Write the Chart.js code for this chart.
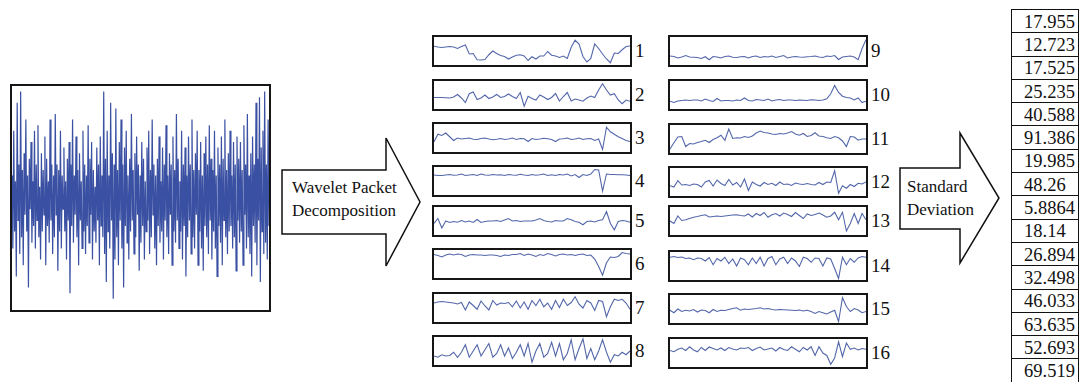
<!DOCTYPE html>
<html><head><meta charset="utf-8">
<script src="https://cdn.jsdelivr.net/npm/chart.js@4/dist/chart.umd.min.js"></script>
<style>
html,body{margin:0;padding:0;background:#fff;width:1079px;height:382px;overflow:hidden;font-family:"Liberation Serif","DejaVu Serif",serif;color:#111;}
.box{position:absolute;border:2px solid #161616;box-sizing:border-box;background:#fff;}
.box canvas{display:block;}
.lbl{position:absolute;font-size:19px;line-height:19px;}
.atext{position:absolute;font-size:17px;line-height:23px;white-space:nowrap;}
#tbl{position:absolute;left:1011px;top:9px;border-collapse:collapse;}
#tbl td{border:1.5px solid #111;height:23.3px;width:68px;padding:1px 0 0 12px;font-size:18.5px;line-height:18px;box-sizing:border-box;}
svg{position:absolute;left:0;top:0;}
</style></head>
<body>
<svg width="1079" height="382" id="arrows">
  <polygon points="282,170 386,170 386,138 420,202 386,266 386,234 282,234" fill="#fff" stroke="#111" stroke-width="1.5"/>
  <polygon points="900,168 960,168 960,133 999,198 960,263 960,229 900,229" fill="#fff" stroke="#111" stroke-width="1.5"/>
</svg>
<div class="atext" style="left:292px;top:176px;">Wavelet Packet<br>Decomposition</div>
<div class="atext" style="left:907px;top:175px;">Standard<br>Deviation</div>
<div id="root"></div>
<table id="tbl"></table>
<script>
// ---------- data ----------
const rawSignal = [
0.2,-0.45,0.6,-0.3,0.15,-0.7,0.85,-0.2,0.3,-0.5,0.95,-0.35,
0.25,-0.6,0.4,-0.15,0.7,-0.3,0.2,-0.8,0.35,-0.1,0.5,-0.4,
0.15,-0.25,0.6,-0.45,0.3,-0.2,0.65,-0.35,0.1,-0.55,0.4,-0.3,
0.25,-0.15,0.55,-0.6,0.35,-0.25,0.15,-0.4,0.7,-0.2,0.3,-0.5,
0.2,-0.35,0.75,-0.15,0.3,-0.65,0.25,-0.3,0.6,-0.45,0.2,-0.1,
0.45,-0.3,0.15,-0.55,0.35,-0.2,0.5,-0.85,0.3,-0.25,0.7,-0.4,
0.2,-0.15,0.55,-0.35,0.25,-0.6,0.4,-0.2,0.15,-0.45,0.6,-0.3,
0.3,-0.5,0.2,-0.25,0.65,-0.4,0.35,-0.15,0.5,-0.55,0.25,-0.3,
0.1,-0.4,0.45,-0.2,0.3,-0.6,0.55,-0.25,0.2,-0.35,0.95,-0.5,
0.35,-0.75,0.6,-0.3,0.2,-0.45,0.85,-0.2,0.4,-0.9,0.3,-0.55,
0.8,-0.35,0.25,-0.6,0.5,-0.2,0.7,-0.45,0.3,-0.8,0.45,-0.25,
0.6,-0.4,0.2,-0.55,0.35,-0.3,0.75,-0.2,0.25,-0.5,0.4,-0.35,
0.55,-0.15,0.3,-0.65,0.2,-0.4,0.5,-0.25,0.35,-0.55,0.15,-0.3,
0.45,-0.2,0.6,-0.5,0.25,-0.35,0.7,-0.15,0.3,-0.45,0.2,-0.6,
0.35,-0.25,0.55,-0.4,0.15,-0.3,0.45,-0.55,0.3,-0.2,0.65,-0.35,
0.2,-0.5,0.4,-0.15,0.3,-0.6,0.55,-0.3,0.25,-0.4,0.75,-0.2,
0.35,-0.45,0.15,-0.3,0.6,-0.55,0.3,-0.25,0.45,-0.7,0.2,-0.35,
0.55,-0.2,0.3,-0.5,0.7,-0.35,0.25,-0.45,0.4,-0.15,0.6,-0.6,
0.25,-0.3,0.5,-0.45,0.2,-0.65,0.4,-0.25,0.55,-0.35,0.3,-0.5,
0.65,-0.2,0.35,-0.55,0.25,-0.3,0.6,-0.45,0.2,-0.7,0.45,-0.25,
0.3,-0.4,0.55,-0.6,0.35,-0.2,0.7,-0.35,0.25,-0.5,0.4,-0.3,
0.6,-0.25,0.2,-0.45,0.5,-0.35,0.3,-0.65,0.55,-0.2,0.35,-0.4,
0.5,-0.3,0.25,-0.6,0.65,-0.15,0.3,-0.45,0.75,-0.35,0.2,-0.5,
0.4,-0.7,0.55,-0.25,0.3,-0.4,0.85,-0.6,0.35,-0.2,0.9,-0.75,
0.45,-0.3,0.6,-0.5,0.95,-0.4,0.3,-0.55,0.7,-0.25];

const sub1 = [0.69,0.66,0.64,0.66,0.68,0.66,0.60,0.68,0.74,0.38,0.40,0.15,0.14,0.16,0.35,0.50,0.40,0.32,0.28,0.18,0.26,0.33,0.35,0.30,0.12,0.27,0.18,0.30,0.30,0.48,0.33,0.30,0.24,0.30,0.20,0.65,0.93,0.78,0.28,0.06,0.20,0.78,0.60,0.38,0.18,0.03,0.42,0.40,0.55,0.68,0.70];
const sub2 = [0.40,0.40,0.40,0.39,0.38,0.42,0.52,0.38,0.20,0.55,0.62,0.32,0.38,0.50,0.36,0.42,0.52,0.40,0.44,0.54,0.44,0.36,0.60,0.05,0.45,0.36,0.30,0.50,0.42,0.32,0.40,0.56,0.26,0.44,0.60,0.26,0.34,0.30,0.25,0.38,0.46,0.40,0.70,0.95,0.70,0.50,0.55,0.30,0.15,0.30,0.25];
const sub3 = [0.35,0.65,0.60,0.70,0.55,0.40,0.50,0.46,0.48,0.50,0.45,0.44,0.48,0.50,0.46,0.43,0.45,0.48,0.44,0.46,0.50,0.44,0.48,0.47,0.36,0.48,0.44,0.46,0.49,0.47,0.44,0.36,0.46,0.47,0.50,0.44,0.46,0.50,0.44,0.47,0.48,0.40,0.46,0.04,0.93,0.75,0.65,0.55,0.48,0.40,0.36];
const sub4 = [0.74,0.72,0.72,0.74,0.76,0.73,0.74,0.78,0.72,0.74,0.76,0.72,0.78,0.74,0.73,0.76,0.74,0.75,0.72,0.76,0.74,0.73,0.77,0.74,0.72,0.76,0.73,0.75,0.78,0.72,0.75,0.72,0.76,0.74,0.78,0.70,0.76,0.64,0.76,0.72,0.78,0.96,0.94,0.10,0.78,0.76,0.76,0.75,0.75,0.74,0.72];
const sub5 = [0.40,0.60,0.22,0.50,0.44,0.48,0.45,0.52,0.46,0.50,0.44,0.56,0.44,0.48,0.50,0.50,0.52,0.48,0.54,0.60,0.50,0.52,0.48,0.50,0.50,0.50,0.54,0.60,0.52,0.48,0.46,0.52,0.50,0.50,0.60,0.55,0.48,0.45,0.35,0.48,0.50,0.46,0.52,0.55,0.88,0.40,0.15,0.48,0.52,0.50,0.45];
const sub6 = [0.88,0.84,0.78,0.86,0.90,0.86,0.90,0.88,0.80,0.86,0.88,0.86,0.86,0.84,0.86,0.86,0.84,0.80,0.86,0.84,0.88,0.88,0.92,0.84,0.90,0.86,0.80,0.88,0.84,0.92,0.88,0.82,0.88,0.90,0.86,0.88,0.84,0.88,0.90,0.84,0.86,0.70,0.40,0.05,0.55,0.78,0.76,0.80,0.96,0.92,0.90];
const sub7 = [0.70,0.74,0.76,0.74,0.72,0.70,0.66,0.72,0.42,0.74,0.60,0.45,0.78,0.58,0.42,0.80,0.62,0.70,0.68,0.72,0.55,0.78,0.50,0.74,0.45,0.80,0.60,0.85,0.55,0.70,0.45,0.80,0.52,0.85,0.60,0.72,0.95,0.65,0.50,0.80,0.70,0.40,0.80,0.76,0.15,0.55,0.85,0.80,0.85,0.70,0.45];
const sub8 = [0.30,0.25,0.35,0.30,0.32,0.45,0.25,0.45,0.75,0.25,0.50,0.75,0.30,0.55,0.80,0.25,0.40,0.75,0.30,0.62,0.20,0.45,0.75,0.30,0.80,0.05,0.50,0.80,0.25,0.40,0.85,0.30,0.80,0.15,0.40,0.95,0.15,0.60,0.98,0.20,0.60,0.15,0.50,0.95,0.45,0.05,0.35,0.30,0.45,0.35,0.50];
const sub9 = [0.30,0.28,0.22,0.26,0.32,0.26,0.25,0.24,0.20,0.27,0.15,0.28,0.26,0.22,0.28,0.30,0.25,0.24,0.27,0.28,0.22,0.28,0.30,0.24,0.28,0.26,0.30,0.24,0.28,0.32,0.22,0.26,0.28,0.26,0.25,0.27,0.28,0.30,0.26,0.24,0.30,0.28,0.32,0.16,0.26,0.28,0.30,0.26,0.15,0.60,0.95];
const sub10 = [0.25,0.20,0.26,0.28,0.30,0.28,0.30,0.30,0.26,0.34,0.28,0.24,0.36,0.26,0.28,0.28,0.26,0.30,0.28,0.38,0.28,0.26,0.32,0.30,0.28,0.34,0.26,0.30,0.32,0.28,0.30,0.30,0.28,0.30,0.29,0.28,0.31,0.30,0.28,0.30,0.35,0.55,0.88,0.60,0.45,0.40,0.38,0.30,0.38,0.20,0.25];
const sub11 = [0.10,0.35,0.58,0.60,0.20,0.32,0.30,0.36,0.40,0.45,0.36,0.48,0.55,0.65,0.45,0.90,0.52,0.55,0.54,0.60,0.56,0.62,0.74,0.82,0.76,0.74,0.70,0.68,0.72,0.70,0.74,0.80,0.70,0.65,0.72,0.60,0.64,0.75,0.62,0.60,0.55,0.52,0.60,0.55,0.42,0.20,0.60,0.58,0.45,0.50,0.50];
const sub12 = [0.35,0.30,0.55,0.38,0.40,0.36,0.42,0.40,0.30,0.50,0.56,0.34,0.58,0.44,0.36,0.60,0.38,0.48,0.30,0.62,0.16,0.50,0.40,0.34,0.48,0.40,0.45,0.36,0.50,0.40,0.42,0.36,0.46,0.42,0.40,0.44,0.40,0.38,0.48,0.40,0.50,0.48,0.95,0.05,0.35,0.25,0.40,0.32,0.45,0.42,0.50];
const sub13 = [0.50,0.40,0.70,0.52,0.55,0.60,0.65,0.68,0.72,0.75,0.66,0.68,0.70,0.68,0.70,0.72,0.74,0.75,0.72,0.70,0.78,0.66,0.80,0.72,0.84,0.65,0.75,0.80,0.70,0.82,0.76,0.68,0.84,0.72,0.60,0.78,0.72,0.76,0.82,0.74,0.65,0.70,0.85,0.55,0.85,0.10,0.40,0.80,0.40,0.80,0.55];
const sub14 = [0.85,0.88,0.84,0.86,0.80,0.82,0.75,0.82,0.80,0.70,0.84,0.55,0.80,0.70,0.85,0.60,0.78,0.50,0.82,0.75,0.55,0.82,0.60,0.85,0.50,0.80,0.88,0.55,0.78,0.85,0.60,0.82,0.70,0.48,0.85,0.80,0.65,0.82,0.80,0.50,0.82,0.78,0.40,0.00,0.85,0.55,0.80,0.65,0.82,0.88,0.85];
const sub15 = [0.45,0.35,0.50,0.40,0.45,0.42,0.48,0.38,0.46,0.44,0.35,0.48,0.40,0.45,0.44,0.48,0.52,0.55,0.45,0.50,0.48,0.50,0.52,0.55,0.50,0.52,0.48,0.46,0.48,0.47,0.46,0.45,0.44,0.46,0.42,0.45,0.40,0.32,0.40,0.35,0.30,0.38,0.45,0.00,0.95,0.60,0.40,0.52,0.46,0.35,0.40];
const sub16 = [0.60,0.55,0.65,0.70,0.60,0.75,0.62,0.55,0.72,0.60,0.74,0.68,0.62,0.70,0.60,0.72,0.66,0.62,0.70,0.68,0.72,0.60,0.68,0.74,0.62,0.66,0.70,0.58,0.72,0.64,0.60,0.75,0.65,0.55,0.72,0.62,0.75,0.40,0.75,0.50,0.40,0.05,0.30,0.95,0.35,0.90,0.65,0.70,0.62,0.68,0.65];
const subSeries = [sub1,sub2,sub3,sub4,sub5,sub6,sub7,sub8,sub9,sub10,sub11,sub12,sub13,sub14,sub15,sub16];
const subLabels = ['1','2','3','4','5','6','7','8','9','10','11','12','13','14','15','16'];
const stdValues = ['17.955','12.723','17.525','25.235','40.588','91.386','19.985','48.26','5.8864','18.14','26.894','32.498','46.033','63.635','52.693','69.519'];

// ---------- drawing ----------
const root = document.getElementById('root');
function makeBox(left, top, w, h){
  const d = document.createElement('div');
  d.className = 'box';
  d.style.left = left+'px'; d.style.top = top+'px';
  d.style.width = w+'px'; d.style.height = h+'px';
  const c = document.createElement('canvas');
  c.width = w-4; c.height = h-4;
  d.appendChild(c);
  root.appendChild(d);
  return c;
}
function lineChart(canvas, values, color, lw, ymin, ymax){
  return new Chart(canvas, {
    type:'line',
    data:{datasets:[{data:values.map((v,i)=>({x:i,y:v})), borderColor:color, borderWidth:lw, pointRadius:0, tension:0, fill:false}]},
    options:{responsive:false, animation:false, events:[], layout:{padding:0},
      plugins:{legend:{display:false}, tooltip:{enabled:false}},
      scales:{x:{type:'linear', display:false, min:0, max:values.length-1},
              y:{display:false, min:ymin, max:ymax}}}
  });
}
// big signal
lineChart(makeBox(10,84,261,228), rawSignal, '#3a50a2', 1.2, -1.0, 1.0);

// sub-band charts
const colX = [432, 668];
const rowTop = [[35,79,122,165,205,248,292,335],[35,79,123,166,205,250,293,337]];
subSeries.forEach((s, k)=>{
  const col = k<8?0:1, row = k%8;
  const left = colX[col], top = rowTop[col][row];
  lineChart(makeBox(left, top, 200, 32), s, '#5367aa', 1.1, -0.06, 1.06);
  const l = document.createElement('div');
  l.className = 'lbl';
  l.textContent = subLabels[k];
  l.style.left = (left+203)+'px';
  l.style.top = (top+6)+'px';
  root.appendChild(l);
});

// std table
const tbl = document.getElementById('tbl');
stdValues.forEach(v=>{
  const tr = document.createElement('tr');
  const td = document.createElement('td');
  td.textContent = v;
  tr.appendChild(td); tbl.appendChild(tr);
});
</script>
</body></html>
